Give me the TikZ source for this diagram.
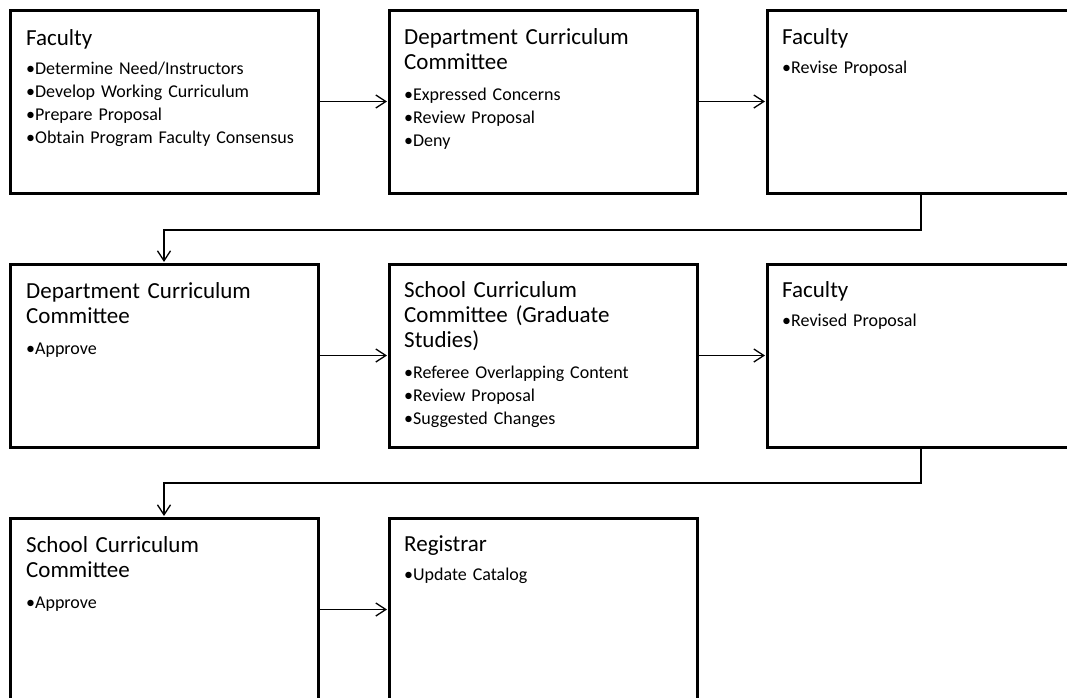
\documentclass[tikz,border=0pt]{standalone}
\usepackage{fontspec}
\setmainfont{Carlito}
\usetikzlibrary{arrows.meta,calc}
\tikzset{
  box/.style={draw=black, line width=3pt, minimum width=308pt, minimum height=183pt, anchor=north west, inner sep=0pt, outer sep=0pt},
  ttl/.style={anchor=base west, inner sep=0pt, text width=290pt, align=left, font=\fontsize{23}{25}\selectfont},
  bul/.style={anchor=base west, inner sep=0pt, text width=290pt, align=left, font=\fontsize{18}{23.3}\selectfont},
  conn/.style={line width=1.3pt, -{Straight Barb[length=10pt,width=13pt,line width=1.3pt]}, shorten >=2pt},
}
\begin{document}
\begin{tikzpicture}[x=1pt,y=-1pt]
\useasboundingbox (0,0) rectangle (1067,697);
% row 1
\node[box] (b1) at (10,10) {};
\node[box] (b2) at (389,10) {};
\node[box] (b3) at (767,10) {};
% row 2
\node[box] (c1) at (10,264) {};
\node[box] (c2) at (389,264) {};
\node[box] (c3) at (767,264) {};
% row 3
\node[box] (d1) at (10,518) {};
\node[box] (d2) at (389,518) {};

% texts row 1
\node[ttl] (b1t) at (26,45) {Faculty};
\node[bul] (b1b) at (26,74) {•Determine Need/Instructors\\•Develop Working Curriculum\\•Prepare Proposal\\•Obtain Program Faculty Consensus};
\node[ttl] (b2t) at (404,44) {Department Curriculum\\Committee};
\node[bul] (b2b) at (404,100) {•Expressed Concerns\\•Review Proposal\\•Deny};
\node[ttl] (b3t) at (782,44) {Faculty};
\node[bul] (b3b) at (782,73) {•Revise Proposal};

% texts row 2
\node[ttl] (c1t) at (26,298) {Department Curriculum\\Committee};
\node[bul] (c1b) at (26,354) {•Approve};
\node[ttl] (c2t) at (404,297) {School Curriculum\\Committee (Graduate\\Studies)};
\node[bul] (c2b) at (404,378) {•Referee Overlapping Content\\•Review Proposal\\•Suggested Changes};
\node[ttl] (c3t) at (782,297) {Faculty};
\node[bul] (c3b) at (782,326) {•Revised Proposal};

% texts row 3
\node[ttl] (d1t) at (26,552) {School Curriculum\\Committee};
\node[bul] (d1b) at (26,608) {•Approve};
\node[ttl] (d2t) at (404,551) {Registrar};
\node[bul] (d2b) at (404,580) {•Update Catalog};

% connectors
\draw[conn] (b1.east) -- (b2.west);
\draw[conn] (b2.east) -- (b3.west);
\draw[conn] (b3.south) -- ++(0,37) -| (c1.north);
\draw[conn] (c1.east) -- (c2.west);
\draw[conn] (c2.east) -- (c3.west);
\draw[conn] (c3.south) -- ++(0,36) -| (d1.north);
\draw[conn] (d1.east) -- (d2.west);
\end{tikzpicture}
\end{document}
